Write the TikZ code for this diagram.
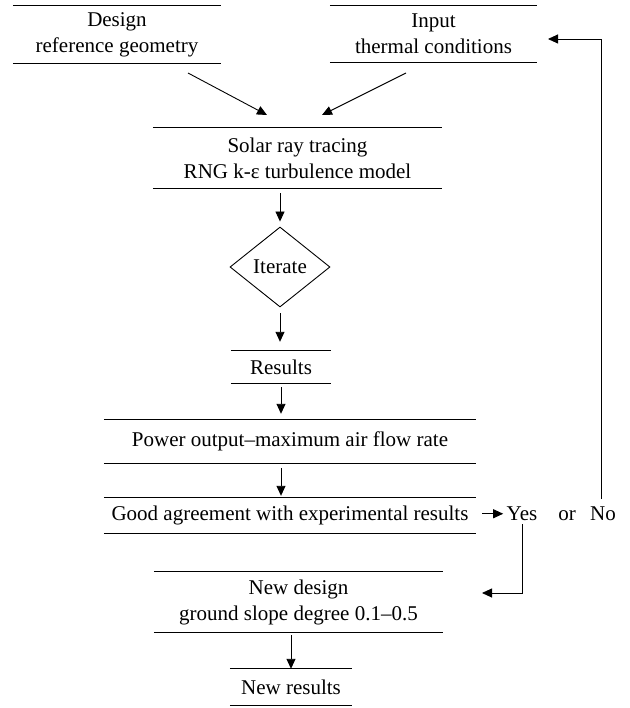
\documentclass[tikz,border=0pt]{standalone}
\usepackage{fontspec}
\setmainfont{Liberation Serif}
\usetikzlibrary{arrows.meta,shapes.geometric}
\begin{document}
\begin{tikzpicture}[x=1pt,y=-1pt,
  every node/.style={font=\fontsize{21}{26}\selectfont},
  barline/.style={draw, line width=1.1pt, -},
  barbox/.style={inner sep=0pt, align=center, append after command={
     (\tikzlastnode.north west) edge[barline] (\tikzlastnode.north east)
     (\tikzlastnode.south west) edge[barline] (\tikzlastnode.south east)}},
  arr/.style={draw, line width=0.9pt, -{Triangle[length=10pt,width=9pt]}},
]
\useasboundingbox (0,0) rectangle (629,708);

\node[barbox, minimum width=208pt, minimum height=57pt] (design) at (117,34.5) {Design\\reference geometry};
\node[barbox, minimum width=207pt, minimum height=56pt] (input) at (433.5,34) {Input\\thermal conditions};
\node[barbox, minimum width=289pt, minimum height=60pt] (solar) at (297.5,158) {Solar ray tracing\\RNG k-ε turbulence model};
\node[diamond, draw, line width=0.9pt, inner sep=0pt, minimum width=100pt, minimum height=80pt] (it) at (280,267) {Iterate};
\node[barbox, minimum width=100pt, minimum height=32pt] (res) at (281,367) {Results};
\node[barbox, minimum width=372pt, minimum height=43pt] (power) at (290,441.5) {Power output–maximum air flow rate};
\node[barbox, minimum width=372pt, minimum height=35pt] (good) at (290,515.5) {Good agreement with experimental results};
\path (522,0) coordinate (yx) (567,0) coordinate (ox) (603,0) coordinate (nx);
\node[anchor=base] (yes) at (good.base -| yx) {Yes};
\node[anchor=base] (or) at (good.base -| ox) {or};
\node[anchor=base] (no) at (good.base -| nx) {No};
\node[barbox, minimum width=289pt, minimum height=60pt] (newd) at (298.5,602) {New design\\ground slope degree 0.1–0.5};
\node[barbox, minimum width=122pt, minimum height=36pt] (newr) at (291,687) {New results};

\coordinate (d1) at (188,73);
\coordinate (d2) at (267,115);
\coordinate (i1) at (406,73);
\coordinate (i2) at (322,115);
\coordinate (ndtip) at (482,593);
\coordinate (intip) at (548,39);
\coordinate (nobot) at (601,499);

\draw[arr] (d1) -- (d2);
\draw[arr] (i1) -- (i2);
\draw[arr, shorten <=5pt, shorten >=5pt] (solar.south -| it.north) -- (it.north);
\draw[arr, shorten <=6pt, shorten >=9pt] (it.south) -- (it.south |- res.north);
\draw[arr, shorten <=4pt, shorten >=6pt] (res.south) -- (res.south |- power.north);
\draw[arr, shorten <=5pt, shorten >=2pt] (res.south |- power.south) -- (res.south |- good.north);
\draw[arr, shorten <=6pt] (good.east |- yes.west) -- (yes.west);
\draw[arr] (yes.south) |- (ndtip);
\draw[arr] (nobot) |- (intip);
\draw[arr, shorten <=3pt] (newd.south -| newr.north) -- (newr.north);
\end{tikzpicture}
\end{document}
